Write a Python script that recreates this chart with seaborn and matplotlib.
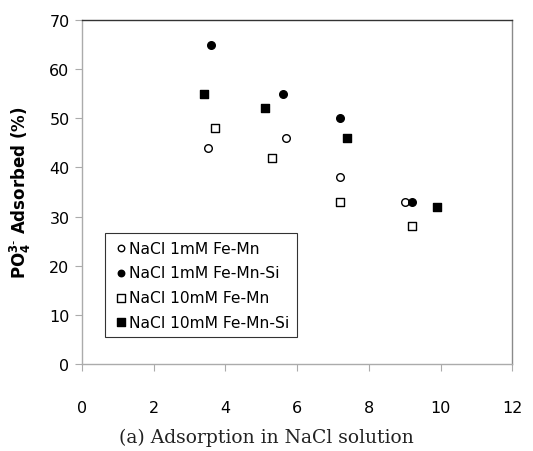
import matplotlib
matplotlib.use("Agg")
import matplotlib.pyplot as plt
import seaborn as sns
import pandas as pd

# values
labels = ["NaCl 1mM Fe-Mn", "NaCl 1mM Fe-Mn-Si", "NaCl 10mM Fe-Mn", "NaCl 10mM Fe-Mn-Si"]
x_1mm_femn = [3.5, 5.7, 7.2, 9.0]
y_1mm_femn = [44, 46, 38, 33]
x_1mm_femnsi = [3.6, 5.6, 7.2, 9.2]
y_1mm_femnsi = [65, 55, 50, 33]
x_10mm_femn = [3.7, 5.3, 7.2, 9.2]
y_10mm_femn = [48, 42, 33, 28]
x_10mm_femnsi = [3.4, 5.1, 7.4, 9.9]
y_10mm_femnsi = [55, 52, 46, 32]

xs = [x_1mm_femn, x_1mm_femnsi, x_10mm_femn, x_10mm_femnsi]
ys = [y_1mm_femn, y_1mm_femnsi, y_10mm_femn, y_10mm_femnsi]
rows = []
for lab, xv, yv in zip(labels, xs, ys):
    for a, b in zip(xv, yv):
        rows.append({"x": a, "y": b, "series": lab})
df = pd.DataFrame(rows)

sns.set_style("white")
plt.rcParams["font.family"] = ["DejaVu Sans"]
plt.rcParams["text.color"] = "black"

fig = plt.figure(figsize=(5.33, 4.52), dpi=100)
ax = fig.add_axes([0.154, 0.1925, 0.807, 0.761])

styles = {
    "NaCl 1mM Fe-Mn": ("o", "white", 30),
    "NaCl 1mM Fe-Mn-Si": ("o", "black", 30),
    "NaCl 10mM Fe-Mn": ("s", "white", 36),
    "NaCl 10mM Fe-Mn-Si": ("s", "black", 36),
}
for lab in labels:
    m, fc, s = styles[lab]
    sns.scatterplot(data=df[df["series"] == lab], x="x", y="y", ax=ax,
                    marker=m, color=fc, edgecolor="black", linewidth=1.0,
                    s=s, label=lab, zorder=3)

ax.set_xlim(0, 12)
ax.set_ylim(0, 70)
ax.set_xticks(range(0, 13, 2))
ax.set_yticks(range(0, 71, 10))
ax.grid(False)
ax.spines["top"].set_color("#333333")
ax.spines["right"].set_color("#8a8a8a")
ax.spines["left"].set_color("#ababab")
ax.spines["bottom"].set_color("#ababab")
for sp in ax.spines.values():
    sp.set_linewidth(1.0)
ax.tick_params(axis="y", direction="out", length=5, color="#ababab",
               labelsize=11.5, pad=4, left=True, labelcolor="black")
ax.tick_params(axis="x", direction="out", length=5, color="#ababab",
               labelsize=11.5, pad=21, bottom=True, labelcolor="black")
ax.set_xlabel("")
ax.set_ylabel(r"$\mathbf{PO_4^{3\text{-}}}$ Adsorbed (%)", fontsize=12,
              fontweight="bold", labelpad=12, color="black")

leg = ax.legend(loc="lower left", bbox_to_anchor=(0.036, 0.055), frameon=True,
                fancybox=False, edgecolor="black", fontsize=11.2,
                handletextpad=0.0, borderpad=0.5, labelspacing=0.62,
                handlelength=1.0, markerscale=0.85)
leg.get_frame().set_linewidth(0.8)

fig.text(0.5, 0.02, "(a) Adsorption in NaCl solution", ha="center",
         fontsize=13.5, family="DejaVu Serif", color="#222222")

fig.savefig("out.png", dpi=100)
